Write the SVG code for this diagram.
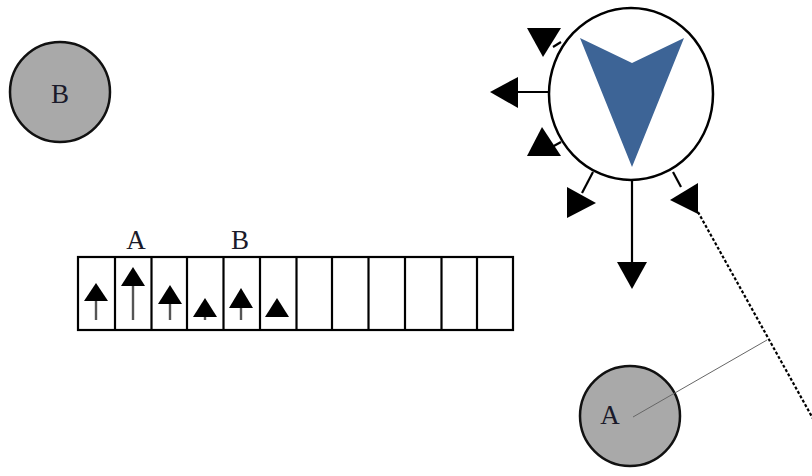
<svg xmlns="http://www.w3.org/2000/svg" width="812" height="476" viewBox="0 0 812 476">
  <style>
    .disc { fill: #a9a9a9; stroke: #111; stroke-width: 2.5; }
    .lbl { font-family: "Liberation Serif", "Times New Roman", serif; font-size: 27px; fill: #1a1a2a; text-anchor: middle; }
    .ln { stroke: #000; stroke-width: 2.2; fill: none; }
    .head { fill: #000; }
    .cell { fill: #fff; stroke: #000; stroke-width: 2.2; }
    .stem { stroke: #555; stroke-width: 2.4; }
  </style>

  <!-- body B -->
  <g id="node-b">
    <circle class="disc" cx="60" cy="92" r="50"/>
    <text class="lbl" x="60" y="103">B</text>
  </g>

  <!-- body A -->
  <g id="node-a">
    <circle class="disc" cx="630" cy="416" r="50"/>
    <text class="lbl" x="610" y="424">A</text>
  </g>

  <!-- agent with heading and candidate moves -->
  <g id="node-agent">
    <ellipse cx="631" cy="94" rx="82" ry="86" fill="#fff" stroke="#000" stroke-width="2.5"/>
    <polygon points="580,38 632,63 684,38 632,167" fill="#3d6496"/>
  </g>

  <!-- history strip -->
  <g id="node-strip">
    <rect class="cell" x="78" y="257" width="435" height="73"/>
    <g class="ln">
      <line x1="115" y1="257" x2="115" y2="330"/>
      <line x1="151.5" y1="257" x2="151.5" y2="330"/>
      <line x1="187" y1="257" x2="187" y2="330"/>
      <line x1="223.5" y1="257" x2="223.5" y2="330"/>
      <line x1="260" y1="257" x2="260" y2="330"/>
      <line x1="296.5" y1="257" x2="296.5" y2="330"/>
      <line x1="332" y1="257" x2="332" y2="330"/>
      <line x1="368.5" y1="257" x2="368.5" y2="330"/>
      <line x1="405" y1="257" x2="405" y2="330"/>
      <line x1="441.5" y1="257" x2="441.5" y2="330"/>
      <line x1="477" y1="257" x2="477" y2="330"/>
    </g>
    <!-- per-step arrows -->
    <line class="stem" x1="96" y1="298" x2="96" y2="320"/>
    <polygon class="head" points="96,283 84,301 108,301"/>
    <line class="stem" x1="133" y1="283" x2="133" y2="320"/>
    <polygon class="head" points="133,267 121,286 145,286"/>
    <line class="stem" x1="170" y1="301" x2="170" y2="320"/>
    <polygon class="head" points="170,285 158,304 182,304"/>
    <line class="stem" x1="205" y1="314" x2="205" y2="320"/>
    <polygon class="head" points="205,298 193,317 217,317"/>
    <line class="stem" x1="241" y1="305" x2="241" y2="320"/>
    <polygon class="head" points="241,288 229,308 253,308"/>
    <polygon class="head" points="277,298 265,317 289,317"/>
    <text class="lbl" x="136" y="249">A</text>
    <text class="lbl" x="240" y="249">B</text>
  </g>

  <g id="connectors">
    <!-- left -->
    <line class="ln" x1="549" y1="92" x2="516" y2="92"/>
    <polygon class="head" points="490,92 518,77 518,108"/>
    <!-- upper left -->
    <line class="ln" x1="561" y1="42" x2="553" y2="47"/>
    <polygon class="head" points="527,28 561,28 543,57"/>
    <!-- lower left -->
    <line class="ln" x1="561" y1="142" x2="552" y2="147"/>
    <polygon class="head" points="542,127 527,156 561,156"/>
    <!-- down-left -->
    <line class="ln" x1="593" y1="172" x2="582" y2="193"/>
    <polygon class="head" points="567,187 567,218 596,203"/>
    <!-- down -->
    <line class="ln" x1="632" y1="180" x2="632" y2="264"/>
    <polygon class="head" points="617,262 647,262 632,289"/>
    <!-- down-right -->
    <line class="ln" x1="673" y1="172" x2="681" y2="187"/>
    <polygon class="head" points="670,200 698,183 698,214"/>
    <!-- dotted path -->
    <line x1="698" y1="212" x2="826" y2="442" stroke="#000" stroke-width="2.2" stroke-dasharray="3,2"/>
    <!-- distance from A to path -->
    <line x1="633" y1="417" x2="767" y2="340" stroke="#666" stroke-width="1"/>
  </g>
</svg>
